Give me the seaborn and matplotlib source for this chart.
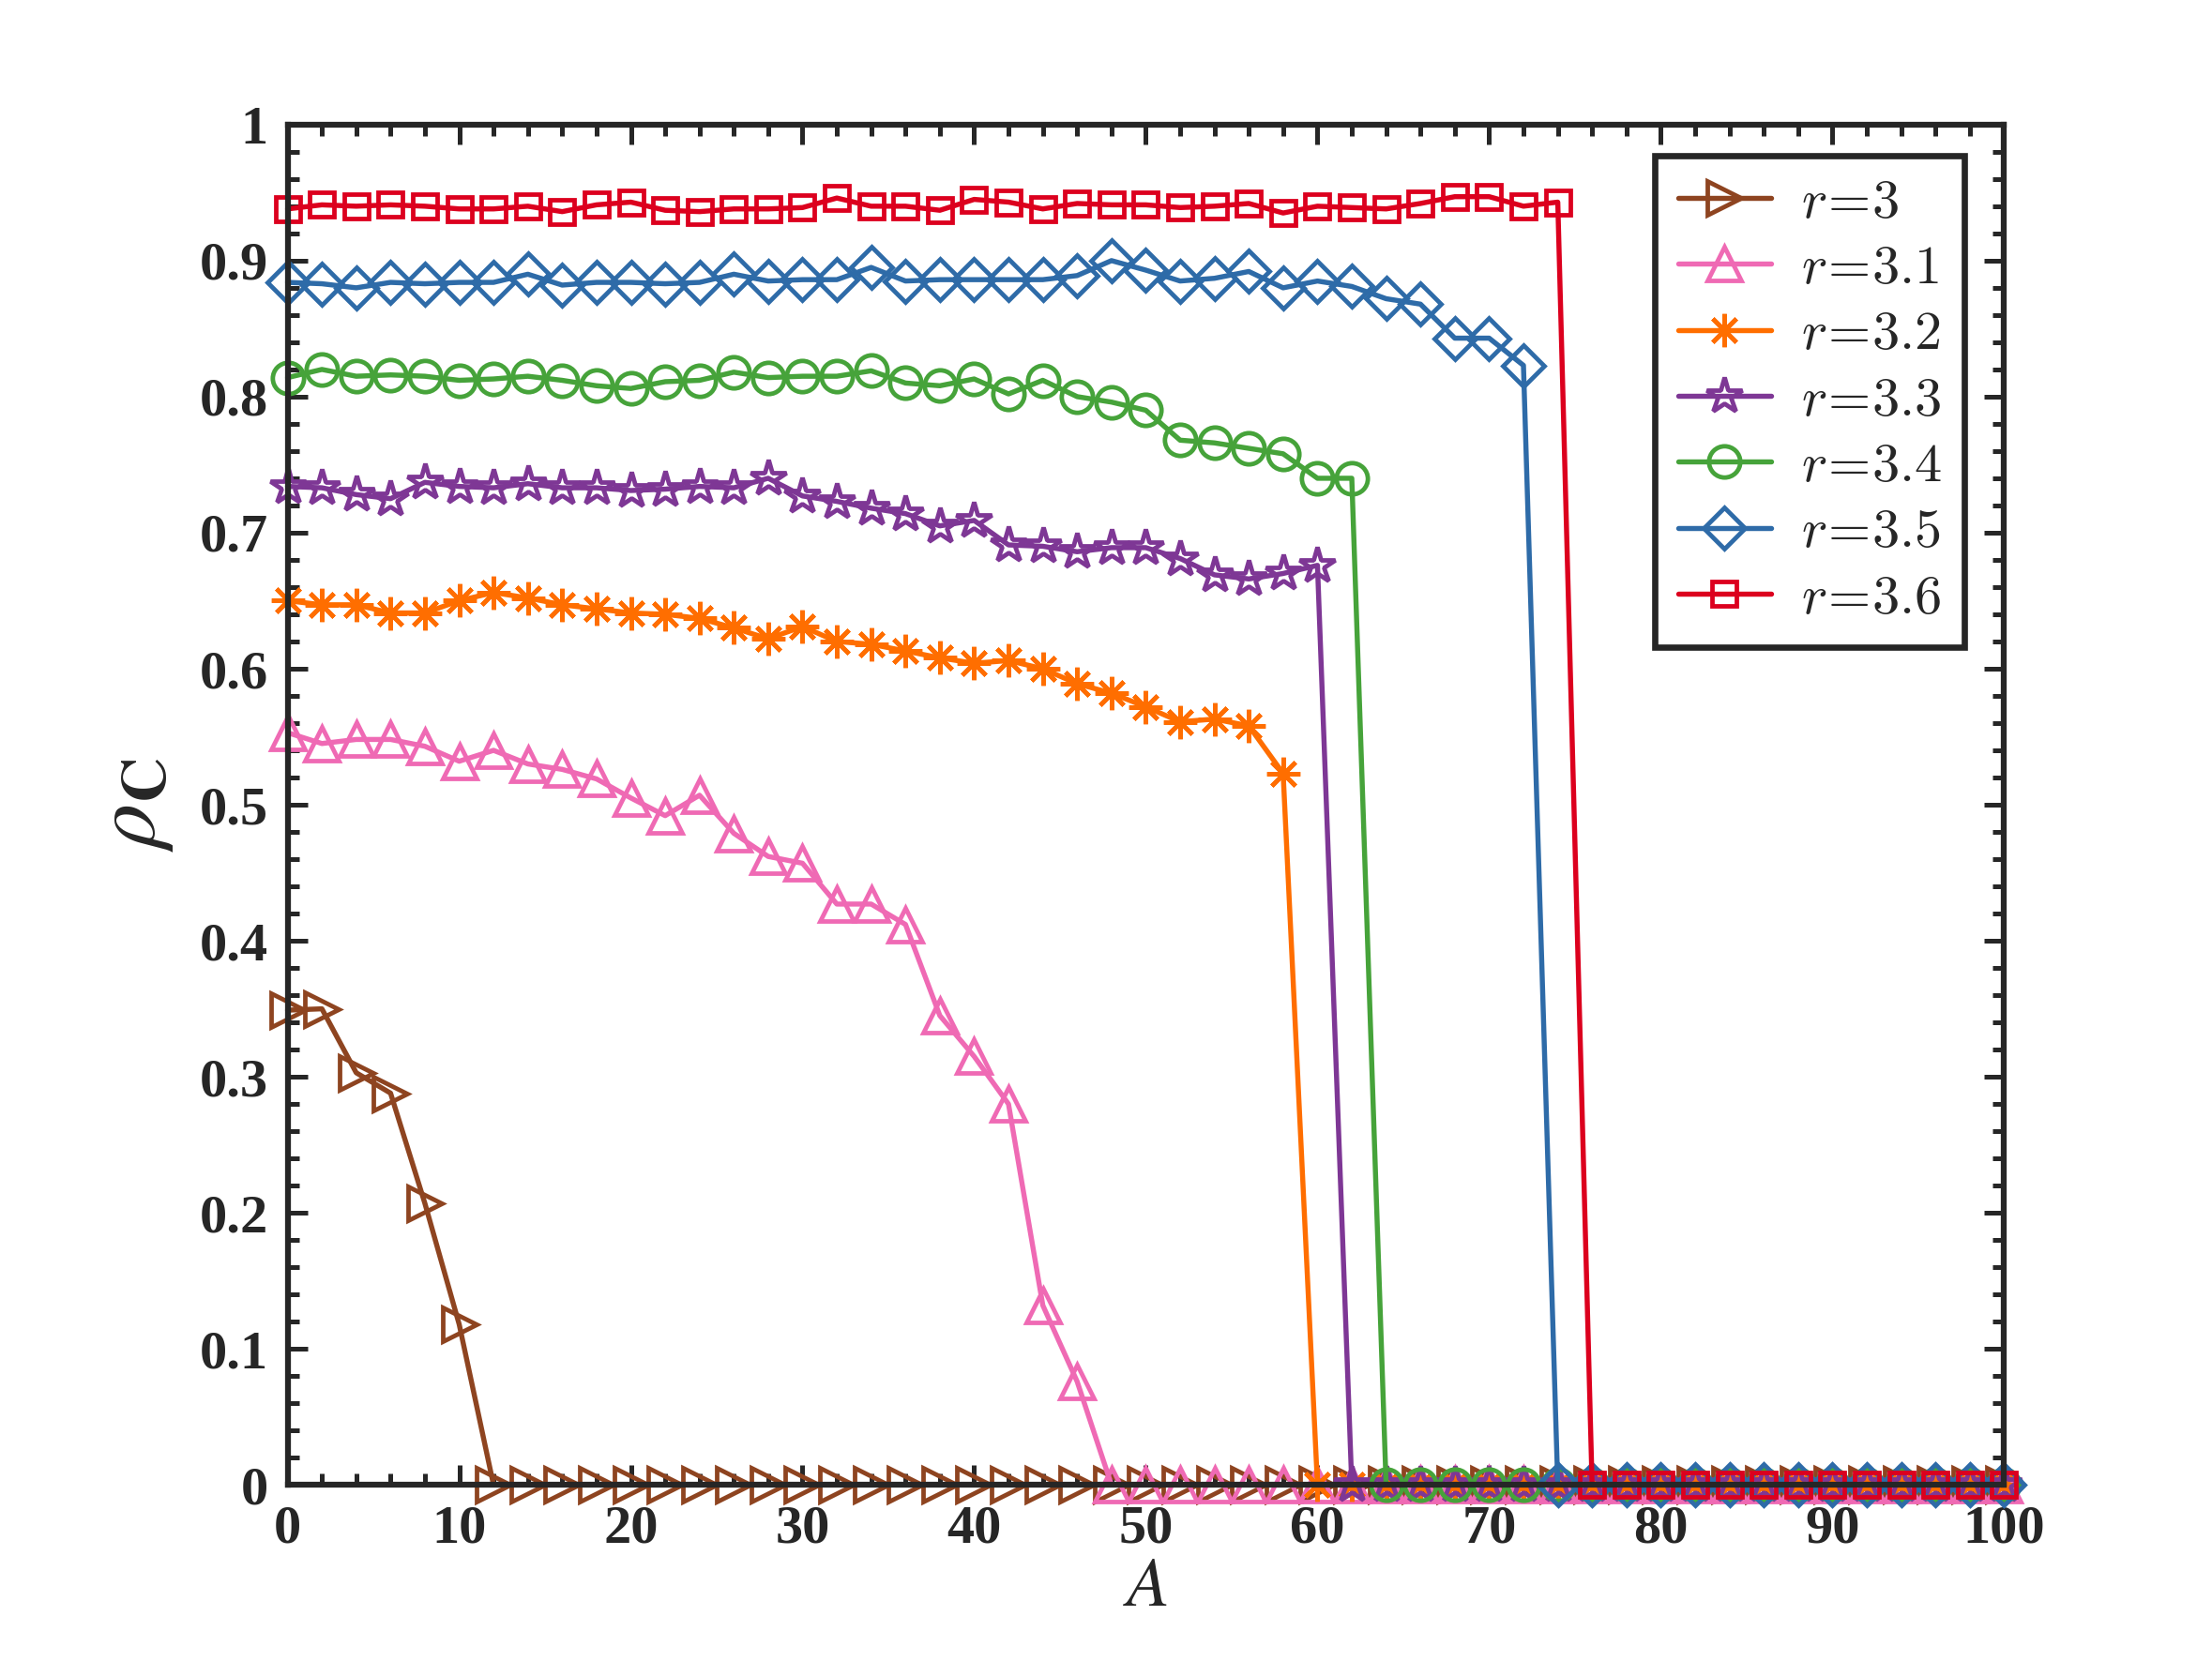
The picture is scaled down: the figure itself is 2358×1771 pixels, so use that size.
import numpy as np
import pandas as pd
import matplotlib
matplotlib.use("Agg")
import matplotlib.pyplot as plt
import seaborn as sns
from matplotlib.ticker import MultipleLocator

A = [0, 2, 4, 6, 8, 10, 12, 14, 16, 18, 20, 22, 24, 26, 28, 30, 32, 34, 36, 38,
     40, 42, 44, 46, 48, 50, 52, 54, 56, 58, 60, 62, 64, 66, 68, 70, 72, 74, 76, 78,
     80, 82, 84, 86, 88, 90, 92, 94, 96, 98, 100]

rho_r30 = [0.349, 0.350, 0.303, 0.288, 0.207, 0.118, 0, 0, 0, 0,
           0, 0, 0, 0, 0, 0, 0, 0, 0, 0,
           0, 0, 0, 0, 0, 0, 0, 0, 0, 0,
           0, 0, 0, 0, 0, 0, 0, 0, 0, 0,
           0, 0, 0, 0, 0, 0, 0, 0, 0, 0, 0]
rho_r31 = [0.553, 0.545, 0.548, 0.548, 0.543, 0.532, 0.540, 0.530, 0.526, 0.519,
           0.505, 0.492, 0.507, 0.479, 0.462, 0.457, 0.427, 0.427, 0.412, 0.345,
           0.315, 0.280, 0.132, 0.076, 0, 0, 0, 0, 0, 0,
           0, 0, 0, 0, 0, 0, 0, 0, 0, 0,
           0, 0, 0, 0, 0, 0, 0, 0, 0, 0, 0]
rho_r32 = [0.650, 0.647, 0.647, 0.641, 0.641, 0.650, 0.656, 0.652, 0.647, 0.644,
           0.641, 0.640, 0.637, 0.630, 0.622, 0.631, 0.620, 0.618, 0.613, 0.608,
           0.604, 0.606, 0.600, 0.589, 0.582, 0.572, 0.561, 0.563, 0.558, 0.523,
           0, 0, 0, 0, 0, 0, 0, 0, 0, 0,
           0, 0, 0, 0, 0, 0, 0, 0, 0, 0, 0]
rho_r33 = [0.734, 0.733, 0.728, 0.725, 0.737, 0.734, 0.733, 0.736, 0.733, 0.733,
           0.731, 0.732, 0.734, 0.733, 0.740, 0.727, 0.723, 0.718, 0.714, 0.705,
           0.709, 0.691, 0.690, 0.686, 0.689, 0.689, 0.681, 0.669, 0.666, 0.670,
           0.676, 0, 0, 0, 0, 0, 0, 0, 0, 0,
           0, 0, 0, 0, 0, 0, 0, 0, 0, 0, 0]
rho_r34 = [0.814, 0.820, 0.815, 0.816, 0.815, 0.812, 0.813, 0.815, 0.812, 0.808,
           0.806, 0.811, 0.812, 0.818, 0.814, 0.815, 0.815, 0.819, 0.810, 0.808,
           0.813, 0.802, 0.812, 0.800, 0.796, 0.790, 0.768, 0.766, 0.762, 0.758,
           0.740, 0.740, 0, 0, 0, 0, 0, 0, 0, 0,
           0, 0, 0, 0, 0, 0, 0, 0, 0, 0, 0]
rho_r35 = [0.884, 0.883, 0.880, 0.884, 0.883, 0.884, 0.884, 0.890, 0.882, 0.884,
           0.884, 0.883, 0.884, 0.890, 0.885, 0.886, 0.886, 0.895, 0.885, 0.886,
           0.886, 0.886, 0.886, 0.889, 0.900, 0.893, 0.885, 0.887, 0.892, 0.880,
           0.885, 0.881, 0.872, 0.868, 0.843, 0.843, 0.823, 0, 0, 0,
           0, 0, 0, 0, 0, 0, 0, 0, 0, 0, 0]
rho_r36 = [0.938, 0.941, 0.940, 0.941, 0.940, 0.938, 0.938, 0.940, 0.936, 0.941,
           0.943, 0.937, 0.936, 0.938, 0.938, 0.939, 0.946, 0.940, 0.940, 0.937,
           0.945, 0.943, 0.938, 0.942, 0.941, 0.941, 0.939, 0.940, 0.942, 0.935,
           0.940, 0.939, 0.938, 0.942, 0.947, 0.947, 0.940, 0.943, 0, 0,
           0, 0, 0, 0, 0, 0, 0, 0, 0, 0, 0]

labels = ["3", "3.1", "3.2", "3.3", "3.4", "3.5", "3.6"]
series = [rho_r30, rho_r31, rho_r32, rho_r33, rho_r34, rho_r35, rho_r36]
colors = ["#8E4420", "#EF6AB4", "#FF6E00", "#7E3795", "#46A33A", "#2E6BA8", "#DC001E"]
markers = [">", "^", (8, 2, 0), "*", "o", "D", "s"]
msizes = [8.5, 8.5, 8.5, 9.5, 8.0, 7.5, 6.3]

sns.set_theme(style="ticks")
plt.rcParams["font.family"] = ["Liberation Serif", "DejaVu Serif"]
plt.rcParams["mathtext.fontset"] = "stix"

fig = plt.figure(figsize=(2358 / 300, 1771 / 300), dpi=300)
ax = fig.add_axes([0.13, 0.106, 0.776, 0.819])

for lab, vals, c, m, ms in zip(labels, series, colors, markers, msizes):
    df = pd.DataFrame({"A": A, "rho": vals})
    sns.lineplot(data=df, x="A", y="rho", ax=ax, color=c, lw=1.3,
                 marker=m, markersize=ms, markerfacecolor="none",
                 markeredgecolor=c, markeredgewidth=1.15,
                 label=r"$r\!=\!" + lab + "$", clip_on=False)

ax.set_xlim(0, 100)
ax.set_ylim(0, 1)
ax.xaxis.set_minor_locator(MultipleLocator(2))
ax.yaxis.set_minor_locator(MultipleLocator(0.02))
ax.set_xticks(np.arange(0, 101, 10))
ax.set_xticklabels([str(v) for v in range(0, 101, 10)])
ax.set_yticks(np.arange(0, 1.01, 0.1))
ax.set_yticklabels(["0", "0.1", "0.2", "0.3", "0.4", "0.5", "0.6", "0.7", "0.8", "0.9", "1"])

ax.tick_params(which="both", direction="in", top=True, right=True,
               colors="#262626", width=1.2)
ax.tick_params(which="major", length=5, labelsize=14, pad=5)
ax.tick_params(which="minor", length=2.8)
for t in ax.get_xticklabels() + ax.get_yticklabels():
    t.set_fontweight("bold")
for s in ax.spines.values():
    s.set_linewidth(1.5)
    s.set_color("#262626")

ax.set_xlabel(r"$A$", fontsize=18, labelpad=1)
ax.set_ylabel(r"$\rho_{\mathbf{C}}$", fontsize=23, labelpad=6)

leg = ax.legend(loc="upper right", bbox_to_anchor=(0.977, 0.977), borderaxespad=0,
                fontsize=14, handlelength=1.7, labelspacing=0.3, handletextpad=0.55,
                borderpad=0.42, fancybox=False, framealpha=1, edgecolor="#262626")
leg.get_frame().set_linewidth(1.6)
for t in leg.get_texts():
    t.set_math_fontfamily("cm")

fig.savefig("out.png", dpi=300, facecolor="white")
